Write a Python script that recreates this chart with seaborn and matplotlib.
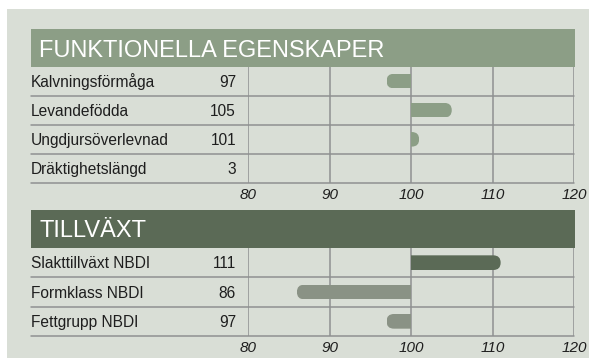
import numpy as np
import pandas as pd
import matplotlib
matplotlib.use("Agg")
import matplotlib.pyplot as plt
from matplotlib.patches import Rectangle, FancyBboxPatch
from matplotlib import transforms
import seaborn as sns

# Functional traits (index values, Dräktighetslängd is given in days and has no bar)
func_traits = ["Kalvningsförmåga", "Levandefödda", "Ungdjursöverlevnad", "Dräktighetslängd"]
func_values = [97, 105, 101, 3]
func_has_bar = [True, True, True, False]
func_colors = ["#8c9e86", "#8c9e86", "#8c9e86", "#8c9e86"]

# Growth traits
growth_traits = ["Slakttillväxt NBDI", "Formklass NBDI", "Fettgrupp NBDI"]
growth_values = [111, 86, 97]
growth_has_bar = [True, True, True]
growth_colors = ["#5b6a56", "#8a9285", "#8a9285"]

section_titles = ["FUNKTIONELLA EGENSKAPER", "TILLVÄXT"]
header_colors = ["#8c9e86", "#5b6a56"]
axis_ticks = [80, 90, 100, 110, 120]
base = 100

BG = "#d9ded6"
GRID = "#8f9091"
TEXT = "#1e1e1e"

sns.set_style("white")
plt.rcParams["font.family"] = ["Liberation Sans", "DejaVu Sans"]

W, H = 589, 358
fig = plt.figure(figsize=(W / 100, H / 100), dpi=100)
fig.patch.set_facecolor("white")

# panel background
fig.add_artist(Rectangle((7 / W, 0), 1 - 7 / W, 1 - 9 / H, transform=fig.transFigure,
                         fc=BG, ec="none", zorder=-10))

LEFT, VALUE_X, CHART_L, CHART_R, HEADER_R = 31, 236, 248, 574, 575

sections = [
    dict(title=section_titles[0], hcolor=header_colors[0], header=(29, 66.5), rows=(66.5, 183),
         baseline=56.7, traits=func_traits, values=func_values, has_bar=func_has_bar,
         colors=func_colors),
    dict(title=section_titles[1], hcolor=header_colors[1], header=(210, 248), rows=(248, 336),
         baseline=237.3, traits=growth_traits, values=growth_values, has_bar=growth_has_bar,
         colors=growth_colors),
]

for sec in sections:
    ht, hb = sec["header"]
    rt, rb = sec["rows"]
    traits = sec["traits"]
    n = len(traits)

    # header band with title
    fig.add_artist(Rectangle((LEFT / W, 1 - hb / H), (HEADER_R - LEFT) / W, (hb - ht) / H,
                             transform=fig.transFigure, fc=sec["hcolor"], ec="none", zorder=1))
    fig.text(39 / W, 1 - sec["baseline"] / H, sec["title"], color="white", fontsize=17,
             ha="left", va="baseline", zorder=2)

    ax = fig.add_axes([CHART_L / W, 1 - rb / H, (CHART_R - CHART_L) / W, (rb - rt) / H])
    ax.set_facecolor("none")

    df = pd.DataFrame({
        "trait": traits,
        "dev": [v - base if b else np.nan for v, b in zip(sec["values"], sec["has_bar"])],
    }).dropna()
    sns.barplot(data=df, x="dev", y="trait", hue="trait", order=traits,
                palette=dict(zip(traits, sec["colors"])), orient="h", width=0.5,
                saturation=1, legend=False, ax=ax, zorder=2)

    ax.set_xlim(axis_ticks[0] - base, axis_ticks[-1] - base)
    ax.set_ylim(n - 0.5, -0.5)

    # rounded outer ends on the bars, flat at the index base
    p0 = ax.transData.transform((0, 0))
    p1 = ax.transData.transform((1, 1))
    sx, sy = abs(p1[0] - p0[0]), abs(p1[1] - p0[1])
    for p in list(ax.patches):
        x, y, w, h = p.get_x(), p.get_y(), p.get_width(), p.get_height()
        if not np.isfinite(w) or w == 0:
            continue
        ry = h / 2
        rx = ry * sy / sx
        if w > 0:
            x0, x1 = x - 2 * rx, x + w
        else:
            x0, x1 = x + w, x + 2 * rx
        fb = FancyBboxPatch((x0, y), x1 - x0, h,
                            boxstyle=f"round,pad=0,rounding_size={rx}",
                            mutation_aspect=sx / sy, fc=p.get_facecolor(), ec="none",
                            lw=0, zorder=2)
        ax.add_patch(fb)
        fb.set_clip_path(p)
        p.set_visible(False)

    # grid
    for t in axis_ticks:
        ax.axvline(t - base, color=GRID, lw=1.1, zorder=1)
    ext = -(CHART_L - LEFT) / (CHART_R - CHART_L)
    for i in range(n):
        ax.axhline(i + 0.5, xmin=ext, xmax=1, color=GRID, lw=1.1, clip_on=False, zorder=1)

    ax.set_xticks([t - base for t in axis_ticks])
    ax.set_xticklabels([str(t) for t in axis_ticks], fontstyle="italic", fontsize=11, color=TEXT)
    ax.tick_params(axis="x", length=0, pad=3.5)
    ax.tick_params(axis="y", left=False, labelleft=False)
    ax.set_xlabel("")
    ax.set_ylabel("")
    for s in ax.spines.values():
        s.set_visible(False)

    # row labels and values
    trans = transforms.blended_transform_factory(fig.transFigure, ax.transData)
    trans = transforms.offset_copy(trans, fig=fig, y=-5.5, units="dots")
    for i, (name, val) in enumerate(zip(traits, sec["values"])):
        ax.text(LEFT / W, i, name, transform=trans, ha="left", va="baseline",
                fontsize=11.2, color=TEXT)
        ax.text(VALUE_X / W, i, str(val), transform=trans, ha="right", va="baseline",
                fontsize=11.2, color=TEXT)

fig.savefig("out.png", dpi=100)
